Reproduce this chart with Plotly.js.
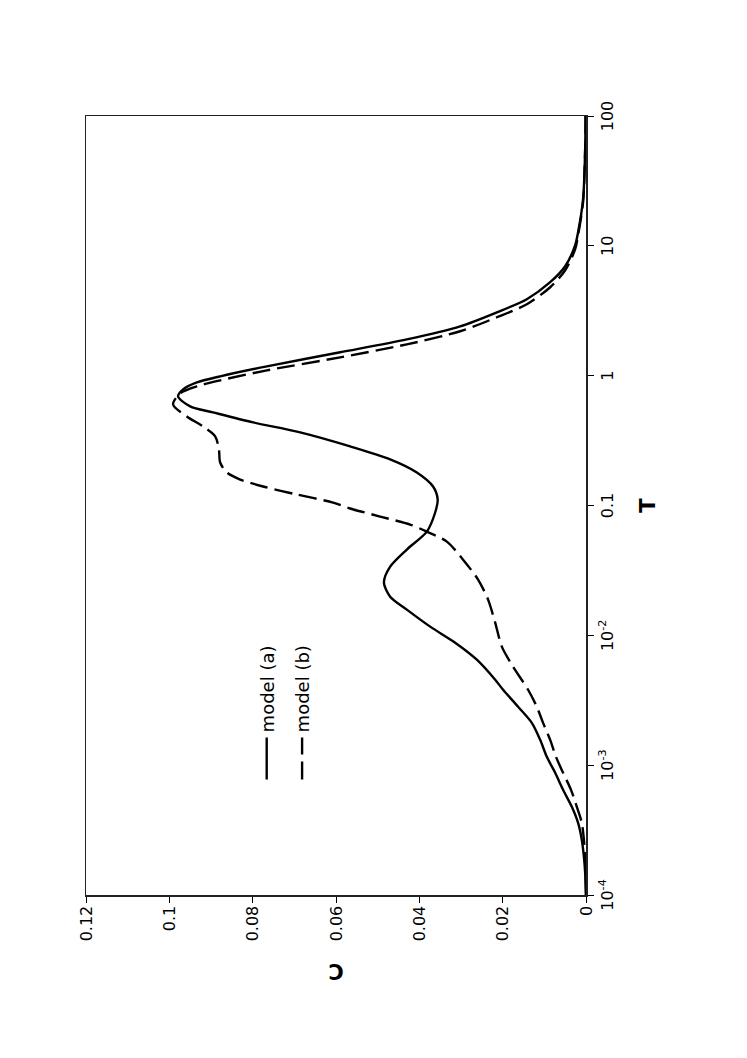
<!DOCTYPE html>
<html>
<head>
<meta charset="utf-8">
<script src="https://cdn.plot.ly/plotly-3.0.1.min.js"></script>
<style>
	html, body { margin: 0; padding: 0; overflow: hidden; background: #fff; }
	/* the chart is drawn landscape and turned a quarter turn to the left */
	#plot {
		position: absolute; left: 0; top: 0;
		width: 1058px; height: 747px;
		transform-origin: 0 0;
		transform: translate(0, 1058px) rotate(-90deg);
	}
</style>
</head>
<body>
<div id="plot"></div>
<script>
var tickVals = [1e-4, 1e-3, 1e-2, 0.1, 1, 10, 100];
var tickText = ['10<sup>-4</sup>', '10<sup>-3</sup>', '10<sup>-2</sup>', '0.1', '1', '10', '100'];

// model (a)
var tA = [1e-4, 1.479e-4, 1.963e-4, 2.655e-4, 3.589e-4, 4.775e-4, 6.457e-4, 8.73e-4, 1.159e-3, 1.567e-3,
	2.118e-3, 2.818e-3, 3.811e-3, 4.55e-3, 6.486e-3, 8.77e-3, 0.01167, 0.01578, 0.01986, 0.02547,
	0.03381, 0.04581, 0.06295, 0.08831, 0.1112, 0.14, 0.1795, 0.2265, 0.2851, 0.3656,
	0.4365, 0.5212, 0.5794, 0.6918, 0.7834, 0.8872, 0.9886, 1.18, 1.514, 1.905,
	2.399, 3.076, 3.882, 5.248, 6.966, 10.12, 12.74, 22.91, 55.59, 100];
var cA = [0, 0.0002, 0.0005, 0.001, 0.0019, 0.0034, 0.0055, 0.0074, 0.0094, 0.011,
	0.013, 0.0163, 0.0199, 0.0218, 0.0262, 0.0314, 0.0374, 0.043, 0.047, 0.0485,
	0.047, 0.043, 0.0382, 0.0362, 0.0356, 0.0367, 0.0406, 0.047, 0.0566, 0.0686,
	0.0799, 0.0895, 0.095, 0.0979, 0.0967, 0.0934, 0.0878, 0.0766, 0.059, 0.043,
	0.0302, 0.0214, 0.0142, 0.0086, 0.005, 0.0026, 0.0019, 0.0007, 0.0002, 0.0001];

// model (b)
var tB = [1e-4, 1.963e-4, 2.655e-4, 3.589e-4, 4.775e-4, 6.457e-4, 8.73e-4, 1.159e-3, 1.567e-3, 2.118e-3,
	2.818e-3, 3.811e-3, 5.728e-3, 8.185e-3, 0.01253, 0.01884, 0.02685, 0.03828, 0.05272, 0.06295,
	0.07129, 0.08222, 0.09484, 0.1054, 0.1216, 0.14, 0.1585, 0.1795, 0.2143, 0.2704,
	0.3404, 0.4064, 0.4853, 0.6012, 0.7311, 0.8279, 0.9204, 1.099, 1.384, 1.742,
	2.198, 2.818, 3.548, 4.797, 6.486, 9.419, 12.08, 21.73, 55.59, 100];
var cB = [0, 0.0002, 0.0005, 0.001, 0.0022, 0.0036, 0.0055, 0.0072, 0.0086, 0.0103,
	0.0118, 0.0139, 0.0175, 0.0202, 0.0218, 0.0235, 0.0259, 0.0295, 0.0334, 0.0382,
	0.0422, 0.0494, 0.0566, 0.0607, 0.0694, 0.0775, 0.083, 0.0862, 0.0878, 0.0881,
	0.089, 0.0919, 0.0958, 0.0991, 0.0974, 0.0934, 0.0878, 0.0766, 0.059, 0.043,
	0.0302, 0.0214, 0.0142, 0.0086, 0.005, 0.0026, 0.0019, 0.0007, 0.0002, 0.0001];

var FONT = 'DejaVu Sans, Liberation Sans, sans-serif';

var data = [{
	x: tA, y: cA,
	type: 'scatter', mode: 'lines',
	name: 'model (a)', legendgroup: 'a',
	line: {color: '#000', width: 2.4, shape: 'spline', smoothing: 0.8}
}, {
	x: tB, y: cB,
	type: 'scatter', mode: 'lines',
	name: 'model (b)', legendgroup: 'b',
	line: {color: '#000', width: 2.4, dash: '18px,7px', shape: 'spline', smoothing: 0.8}
}];

var layout = {
	width: 1058,
	height: 747,
	margin: {l: 163, r: 116, t: 86, b: 161},
	paper_bgcolor: '#fff',
	plot_bgcolor: '#fff',
	font: {family: FONT, size: 16, color: '#000'},
	showlegend: true,
	legend: {
		x: 0.142, y: 0.675, xanchor: 'left', yanchor: 'top',
		bgcolor: 'rgba(0,0,0,0)',
		font: {family: FONT, size: 18, color: '#000'},
		itemwidth: 42,
		tracegroupgap: 9
	},
	xaxis: {
		type: 'log',
		range: [-4, 2],
		tickvals: tickVals,
		ticktext: tickText,
		ticks: 'outside', ticklen: 6, tickcolor: '#000',
		showline: true, linecolor: '#222', linewidth: 1.5, mirror: true,
		showgrid: false, zeroline: false,
		automargin: true,
		title: {text: '<b>T</b>', font: {family: FONT, size: 21, color: '#000'}, standoff: 24}
	},
	yaxis: {
		range: [0, 0.12],
		tick0: 0, dtick: 0.02,
		ticks: 'outside', ticklen: 6, tickcolor: '#000',
		showline: true, linecolor: '#222', linewidth: 1.5, mirror: true,
		showgrid: false, zeroline: false,
		automargin: true,
		title: {text: '<b>C</b>', font: {family: FONT, size: 21, color: '#000'}, standoff: 16}
	}
};

Plotly.newPlot('plot', data, layout, {displayModeBar: false, staticPlot: true});
</script>
</body>
</html>
